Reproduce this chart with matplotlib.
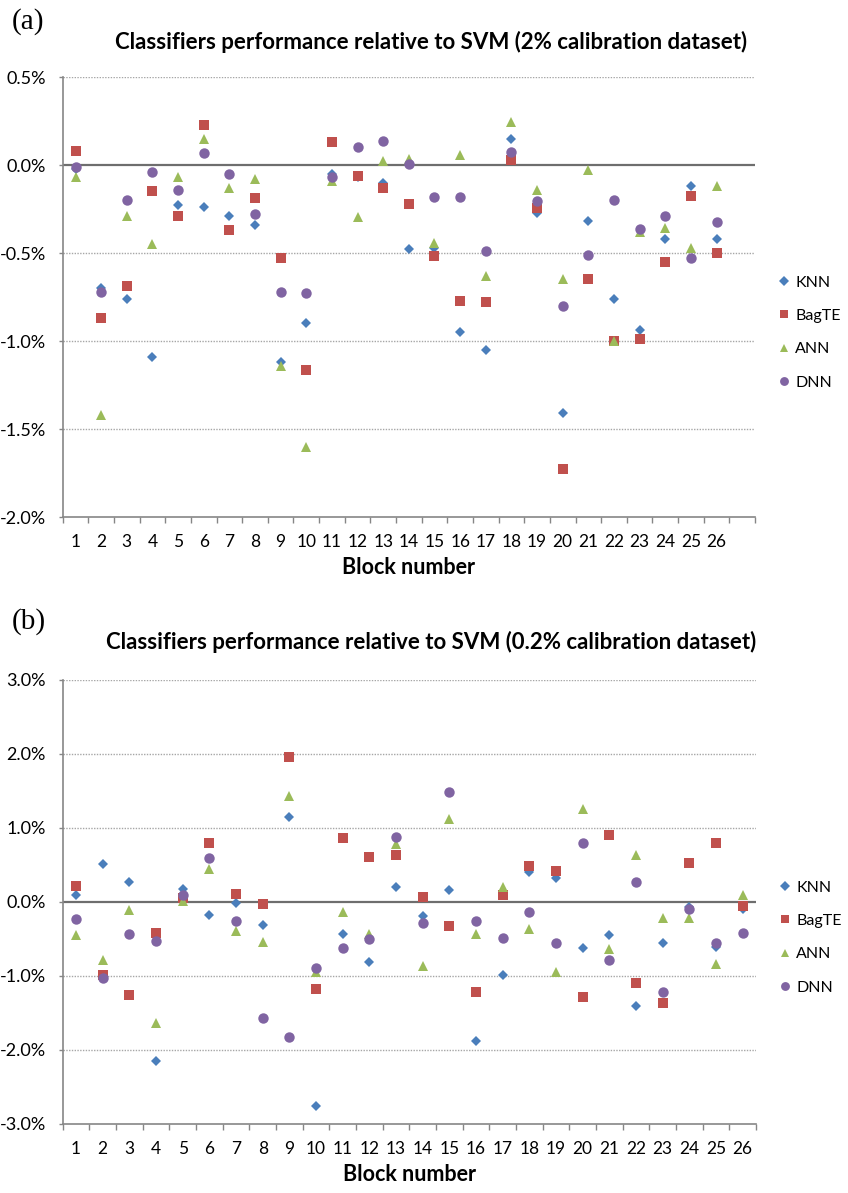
import numpy as np
import matplotlib.pyplot as plt
from matplotlib.ticker import FuncFormatter, FixedLocator

plt.rcParams['font.family'] = ['Lato', 'DejaVu Sans']

blocks = list(range(1, 27))
block_labels = [str(b) for b in blocks]
names = ['KNN', 'BagTE', 'ANN', 'DNN']

# (a) 2% calibration dataset, values in %
knn_a = [-0.02, -0.70, -0.76, -1.09, -0.23, -0.24, -0.29, -0.34, -1.12, -0.90, -0.05, -0.07, -0.10,
         -0.475, -0.47, -0.95, -1.05, 0.15, -0.275, -1.41, -0.32, -0.76, -0.935, -0.42, -0.12, -0.42]
bag_a = [0.08, -0.87, -0.69, -0.15, -0.29, 0.23, -0.37, -0.19, -0.53, -1.165, 0.13, -0.065, -0.13,
         -0.22, -0.515, -0.77, -0.78, 0.03, -0.245, -1.73, -0.645, -1.00, -0.99, -0.55, -0.175, -0.50]
ann_a = [-0.07, -1.42, -0.29, -0.45, -0.07, 0.15, -0.13, -0.08, -1.14, -1.60, -0.09, -0.295, 0.02,
         0.035, -0.445, 0.055, -0.63, 0.245, -0.14, -0.65, -0.03, -1.00, -0.38, -0.36, -0.47, -0.12]
dnn_a = [-0.01, -0.72, -0.20, -0.04, -0.14, 0.07, -0.05, -0.28, -0.72, -0.73, -0.07, 0.10, 0.135,
         0.005, -0.18, -0.18, -0.487, 0.075, -0.205, -0.80, -0.51, -0.20, -0.365, -0.29, -0.53, -0.325]

# (b) 0.2% calibration dataset, values in %
knn_b = [0.10, 0.51, 0.265, -2.155, 0.17, -0.17, -0.02, -0.31, 1.15, -2.75, -0.43, -0.81, 0.20,
         -0.19, 0.16, -1.88, -0.98, 0.40, 0.33, -0.62, -0.45, -1.40, -0.55, -0.065, -0.61, -0.09]
bag_b = [0.22, -0.99, -1.255, -0.42, 0.05, 0.80, 0.11, -0.03, 1.965, -1.175, 0.865, 0.61, 0.64,
         0.07, -0.33, -1.22, 0.09, 0.48, 0.42, -1.28, 0.90, -1.09, -1.36, 0.53, 0.80, -0.05]
ann_b = [-0.44, -0.79, -0.11, -1.63, 0.02, 0.44, -0.39, -0.54, 1.435, -0.95, -0.135, -0.43, 0.79,
         -0.86, 1.12, -0.43, 0.20, -0.365, -0.945, 1.255, -0.635, 0.64, -0.21, -0.21, -0.84, 0.095]
dnn_b = [-0.225, -1.03, -0.43, -0.53, 0.09, 0.59, -0.25, -1.565, -1.83, -0.89, -0.615, -0.495, 0.877,
         -0.28, 1.48, -0.26, -0.49, -0.14, -0.56, 0.80, -0.79, 0.265, -1.22, -0.10, -0.56, -0.42]

colors = ['#4a7ebb', '#c0504d', '#9bbb59', '#8064a2']
markers = ['D', 's', '^', 'o']
msizes = [5.5, 7, 7.5, 7.5]

W, H = 848, 1193
fig = plt.figure(figsize=(W / 100, H / 100), dpi=100)
ax_a = fig.add_axes([62.7 / W, 1 - 517 / H, (755 - 62.7) / W, 440 / H])
ax_b = fig.add_axes([62.7 / W, 1 - 1124 / H, (756 - 62.7) / W, 444 / H])


def panel(ax, series, ymin, ymax, ystep, ncat, leg_y):
    for vals, name, c, m, ms in zip(series, names, colors, markers, msizes):
        ax.plot(blocks, vals, linestyle='none', marker=m, color=c, markersize=ms,
                markeredgewidth=0, label=name)
    ax.set_xlim(0.5, ncat + 0.5)
    ax.set_ylim(ymin, ymax)
    yt = np.arange(ymin, ymax + ystep / 2, ystep)
    ax.set_yticks(yt)
    ax.yaxis.set_major_formatter(FuncFormatter(lambda v, p: f'{v:.1f}%'.replace('-0.0', '0.0')))
    for v in yt:
        if abs(v) > 1e-9 and v > ymin:
            ax.axhline(v, color='#a6a6a6', lw=1, ls=(0, (1, 1)), zorder=0)
    ax.axhline(0, color='#6e6e6e', lw=1.6, zorder=1)
    ax.xaxis.set_major_locator(FixedLocator(np.arange(0.5, ncat + 1, 1)))
    ax.xaxis.set_major_formatter(FuncFormatter(lambda v, p: ''))
    ax.set_xticks(blocks, minor=True)
    ax.set_xticklabels(block_labels, minor=True)
    ax.tick_params(axis='x', which='major', length=4, width=1, color='#868686', direction='out')
    ax.tick_params(axis='x', which='minor', length=0, pad=12, labelsize=12.5)
    ax.tick_params(axis='y', length=3, width=1, color='#868686', pad=9, labelsize=13)
    for s in ['top', 'right']:
        ax.spines[s].set_visible(False)
    for s in ['left', 'bottom']:
        ax.spines[s].set_color('#868686')
        ax.spines[s].set_linewidth(1.2)
    ax.set_xlabel('Block number', fontsize=15.5, fontweight='bold', labelpad=5)
    ax.legend(loc='center left', bbox_to_anchor=(1.012, leg_y), frameon=False, fontsize=11.5,
              handlelength=0.8, handletextpad=0.3, labelspacing=1.2, markerscale=0.85)


panel(ax_a, [knn_a, bag_a, ann_a, dnn_a], -2.0, 0.5, 0.5, 27, 0.419)
panel(ax_b, [knn_b, bag_b, ann_b, dnn_b], -3.0, 3.0, 1.0, 26, 0.42)

fig.text(431 / W, 1 - 42 / H, 'Classifiers performance relative to SVM (2% calibration dataset)',
         ha='center', va='center', fontsize=16, fontweight='bold')
fig.text(431 / W, 1 - 642 / H, 'Classifiers performance relative to SVM (0.2% calibration dataset)',
         ha='center', va='center', fontsize=16, fontweight='bold')
fig.text(12 / W, 1 - 22 / H, '(a)', ha='left', va='center', fontsize=21, family='Liberation Serif')
fig.text(12 / W, 1 - 622 / H, '(b)', ha='left', va='center', fontsize=21, family='Liberation Serif')

fig.savefig('out.png', dpi=100)
